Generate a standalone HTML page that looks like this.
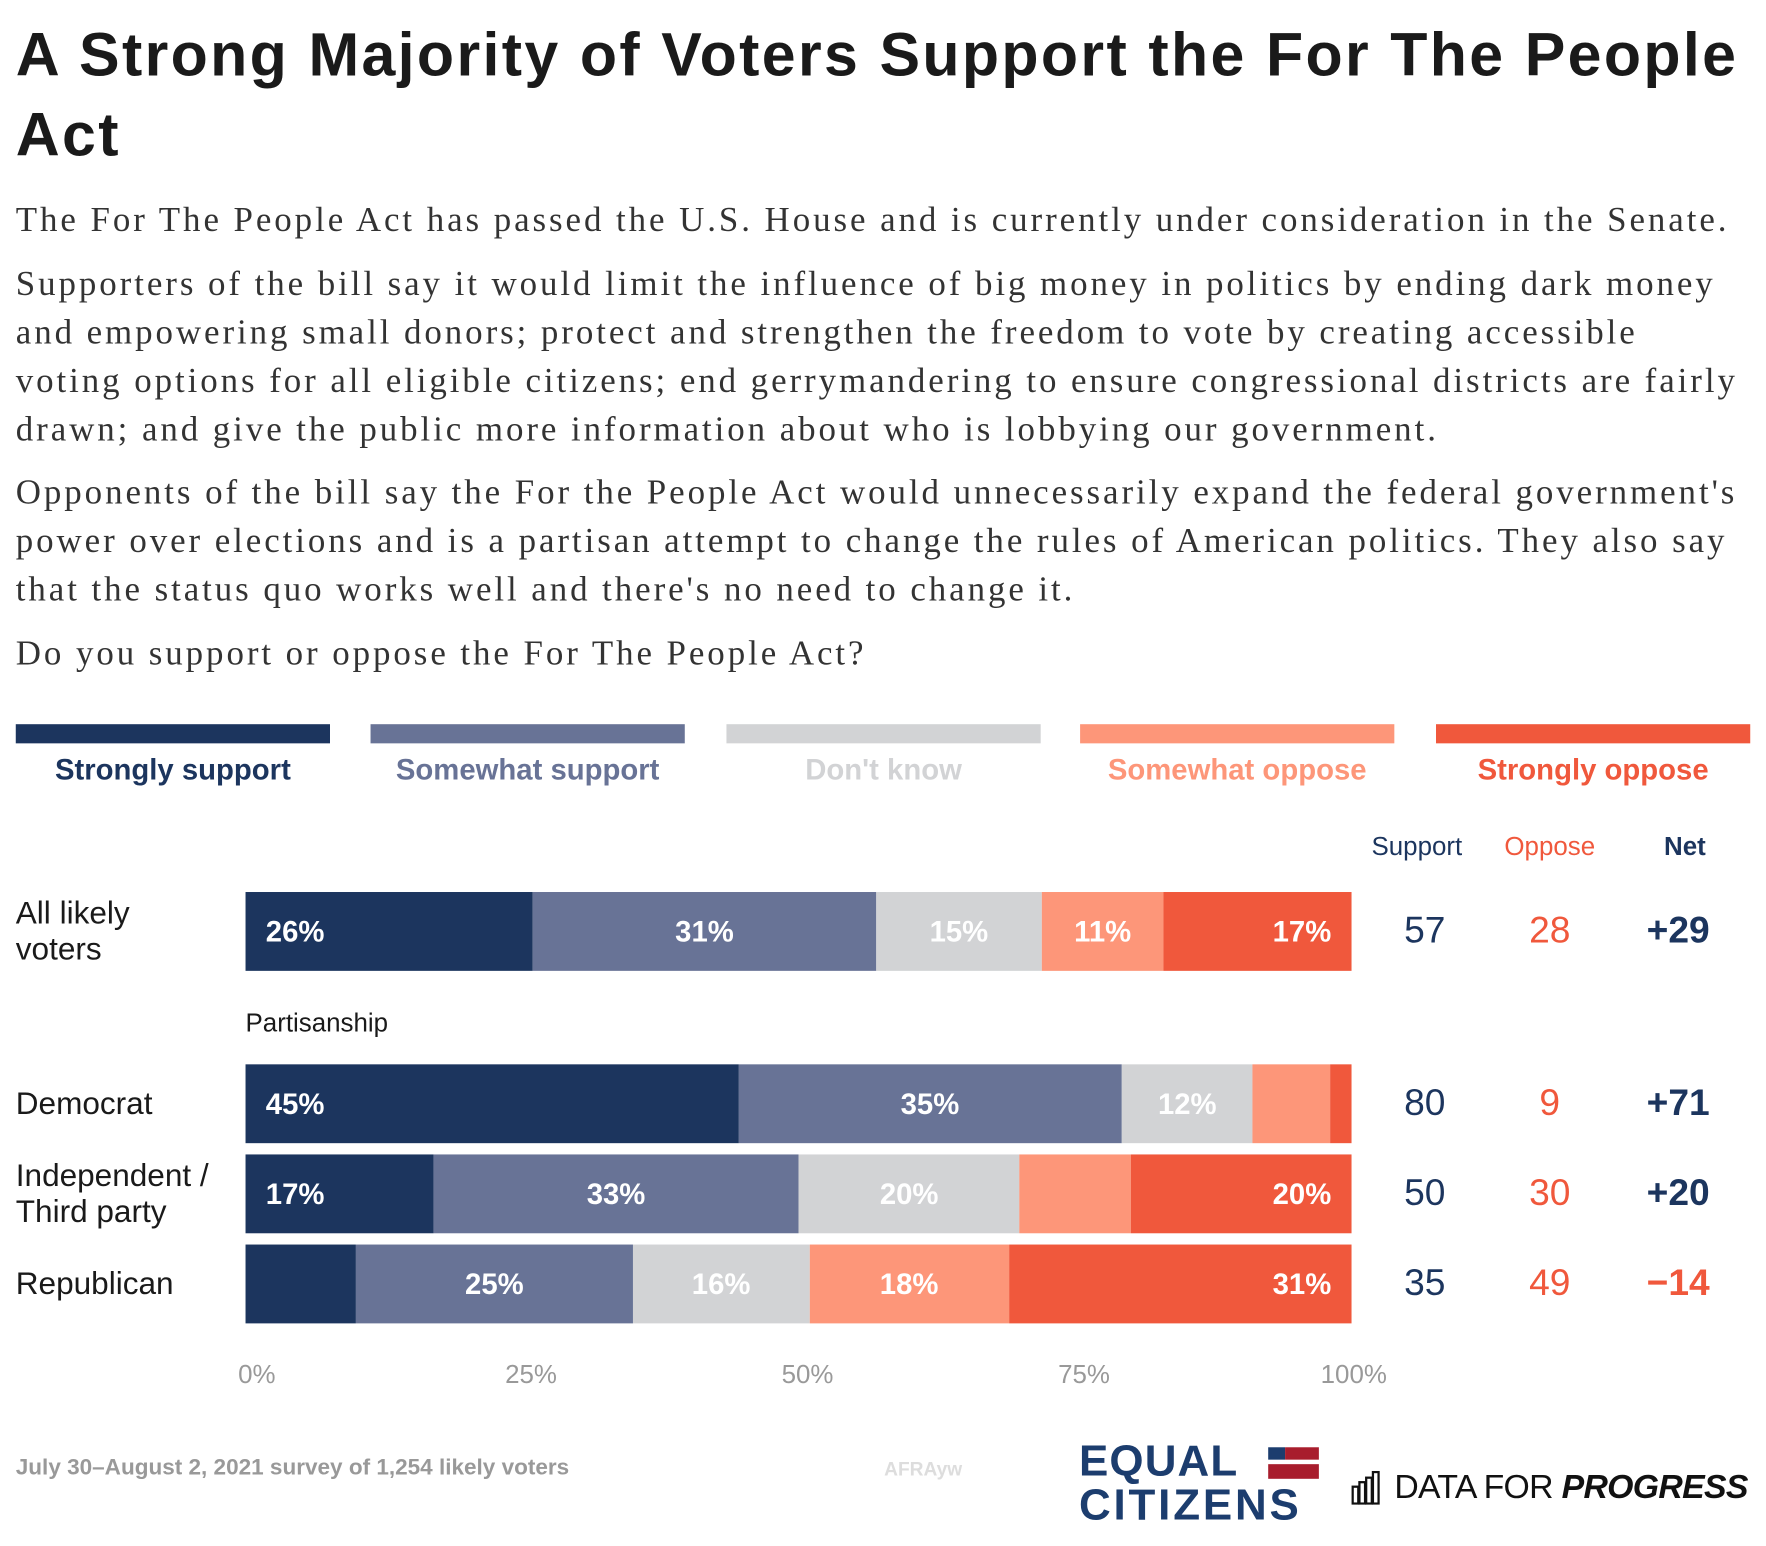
<!DOCTYPE html>
<html><head><meta charset="utf-8">
<style>
html,body{margin:0;padding:0;background:#fff;}
body{width:1766px;height:1546px;overflow:hidden;position:relative;}
#wrap{position:absolute;left:0;top:0;width:1568px;height:1373px;transform:scale(1.12628);transform-origin:0 0;font-family:"Liberation Sans",sans-serif;}
.abs{position:absolute;white-space:nowrap;}
h1{position:absolute;left:14px;top:14px;margin:0;font-size:54px;line-height:71px;font-weight:bold;color:#1a1a1a;letter-spacing:2.1px;}
.p{position:absolute;left:14px;font-family:"Liberation Serif",serif;font-size:31px;color:#333;line-height:43px;white-space:nowrap;letter-spacing:2.6px;}
.leg{position:absolute;top:643px;height:17px;width:279px;}
.legl{position:absolute;top:668px;width:279px;text-align:center;font-weight:bold;font-size:26px;}
.hd{position:absolute;top:738px;font-size:23px;text-align:center;width:120px;}
.cat{position:absolute;left:14px;font-size:28px;color:#1a1a1a;line-height:32px;}
.num{position:absolute;font-size:33px;text-align:center;width:100px;}
.tick{position:absolute;top:1207px;font-size:23px;color:#999;width:100px;text-align:center;}
</style></head><body>
<div id="wrap">
<h1>A Strong Majority of Voters Support the For The People<br>Act</h1>
<div class="p" style="top:173px">The For The People Act has passed the U.S. House and is currently under consideration in the Senate.</div>
<div class="p" style="top:230px">Supporters of the bill say it would limit the influence of big money in politics by ending dark money<br>and empowering small donors; protect and strengthen the freedom to vote by creating accessible<br>voting options for all eligible citizens; end gerrymandering to ensure congressional districts are fairly<br>drawn; and give the public more information about who is lobbying our government.</div>
<div class="p" style="top:415px">Opponents of the bill say the For the People Act would unnecessarily expand the federal government's<br>power over elections and is a partisan attempt to change the rules of American politics. They also say<br>that the status quo works well and there's no need to change it.</div>
<div class="p" style="top:558px">Do you support or oppose the For The People Act?</div>

<div id="legend"></div>

<div class="hd" style="left:1198px;color:#1c355e">Support</div>
<div class="hd" style="left:1316px;color:#f0583c">Oppose</div>
<div class="hd" style="left:1436px;color:#1c355e;font-weight:bold">Net</div>

<div class="abs" style="left:218px;top:895px;font-size:23px;color:#1a1a1a">Partisanship</div>

<div id="bars"></div>

<div class="abs" style="left:14px;top:1292px;font-size:20px;font-weight:bold;color:#999">July 30–August 2, 2021 survey of 1,254 likely voters</div>
<div class="abs" style="left:785px;top:1295px;font-size:17px;font-weight:bold;color:#ddd">AFRAyw</div>

<div style="position:absolute;left:958px;top:1280px;width:215px;height:80px;">
 <div class="abs" style="left:0;top:-2px;font-size:39px;font-weight:bold;color:#1c3d6e;letter-spacing:1px;line-height:40px">EQUAL</div>
 <div class="abs" style="left:0;top:37px;font-size:39px;font-weight:bold;color:#1c3d6e;letter-spacing:2.5px;line-height:40px">CITIZENS</div>
 <div style="position:absolute;left:168px;top:5px;width:15px;height:11px;background:#1c3d6e"></div>
 <div style="position:absolute;left:183px;top:5px;width:30px;height:11px;background:#a81d2d"></div>
 <div style="position:absolute;left:168px;top:20px;width:45px;height:13px;background:#a81d2d"></div>
</div>
<div style="position:absolute;left:1200px;top:1302px;width:360px;height:40px;">
 <svg style="position:absolute;left:0;top:4px" width="26" height="30"><g fill="none" stroke="#111" stroke-width="2"><rect x="1" y="14" width="5" height="15"/><rect x="7" y="10" width="5" height="19"/><rect x="13" y="6" width="5" height="23"/><rect x="19" y="1" width="5" height="28"/></g></svg>
 <div class="abs" style="left:38px;top:0;font-size:30px;color:#111;line-height:38px;letter-spacing:-0.6px">DATA FOR <b><i>PROGRESS</i></b></div>
</div>
</div>
<script>
const seriesNames=["Strongly support","Somewhat support","Don't know","Somewhat oppose","Strongly oppose"];
const categories=["All likely voters","Democrat","Independent / Third party","Republican"];
const strongSupport=[26,45,17,10];
const someSupport=[31,35,33,25];
const dontKnow=[15,12,20,16];
const someOppose=[11,7,10,18];
const strongOppose=[17,2,20,31];
const supportTotals=[57,80,50,35];
const opposeTotals=[28,9,30,49];
const netValues=["+29","+71","+20","−14"];
const ticks=[0,25,50,75,100];

const colors=["#1c355e","#687396","#d2d3d5","#fd9679","#f0583c"];
const labelColors=["#1c355e","#687396","#d2d3d5","#fd9679","#f0583c"];
const wrap=document.getElementById('wrap');
const X0=218,W=982;
function xs(v){return X0+v/100*W;}
const rowTops=[792,945,1025,1105];
const BH=70;
const legLefts=[14,329,645,959,1275];
const legend=document.getElementById('legend');
seriesNames.forEach((n,i)=>{
  const b=document.createElement('div');b.className='leg';
  b.style.left=legLefts[i]+'px';b.style.background=colors[i];
  
  
  legend.appendChild(b);
  const l=document.createElement('div');l.className='legl';
  l.style.left=legLefts[i]+'px';l.style.color=labelColors[i];l.textContent=n;
  
  
  legend.appendChild(l);
});
const bars=document.getElementById('bars');
const series=[strongSupport,someSupport,dontKnow,someOppose,strongOppose];
const catLines=[["All likely","voters"],["Democrat"],["Independent /","Third party"],["Republican"]];
categories.forEach((c,r)=>{
  const top=rowTops[r];
  const cl=document.createElement('div');cl.className='cat';
  cl.innerHTML=catLines[r].join('<br>');
  cl.style.top=(top+BH/2-16*catLines[r].length)+'px';
  
  
  wrap.appendChild(cl);
  let total=0;series.forEach(s=>total+=s[r]);
  let cum=0;
  series.forEach((s,i)=>{
    const v=s[r];
    const x1=xs(cum/total*100),x2=xs((cum+v)/total*100);
    const seg=document.createElement('div');
    seg.style.cssText=`position:absolute;left:${x1}px;top:${top}px;width:${x2-x1}px;height:${BH}px;background:${colors[i]};`;
    
    
    bars.appendChild(seg);
    if(v>=11){
      const t=document.createElement('div');
      t.textContent=v+'%';
      let css=`position:absolute;top:${top}px;line-height:${BH}px;font-size:26px;font-weight:bold;color:#fff;white-space:nowrap;`;
      if(i===0) css+=`left:${x1+18}px;`;
      else if(i===4) css+=`right:${1568-x2+18}px;`;
      else css+=`left:${x1}px;width:${x2-x1}px;text-align:center;`;
      t.style.cssText=css;
      
      
      bars.appendChild(t);
    }
    cum+=v;
  });
  const cy=top+BH/2-20;
  const a=document.createElement('div');a.className='num';a.textContent=supportTotals[r];
  a.style.cssText+=`left:1215px;top:${cy}px;color:#1c355e;`;
  
  
  wrap.appendChild(a);
  const o=document.createElement('div');o.className='num';o.textContent=opposeTotals[r];
  o.style.cssText+=`left:1326px;top:${cy}px;color:#f0583c;`;
  
  
  wrap.appendChild(o);
  const n=document.createElement('div');n.className='num';n.textContent=netValues[r];
  n.style.cssText+=`left:1440px;top:${cy}px;font-weight:bold;color:${netValues[r][0]==='+'?'#1c355e':'#f0583c'};`;
  
  
  wrap.appendChild(n);
});
ticks.forEach(t=>{
  const d=document.createElement('div');d.className='tick';
  d.textContent=t+'%';
  d.style.left=(xs(t)-50+(t===0?10:(t===100?2:8)))+'px';
  
  
  wrap.appendChild(d);
});
</script>
</body></html>
